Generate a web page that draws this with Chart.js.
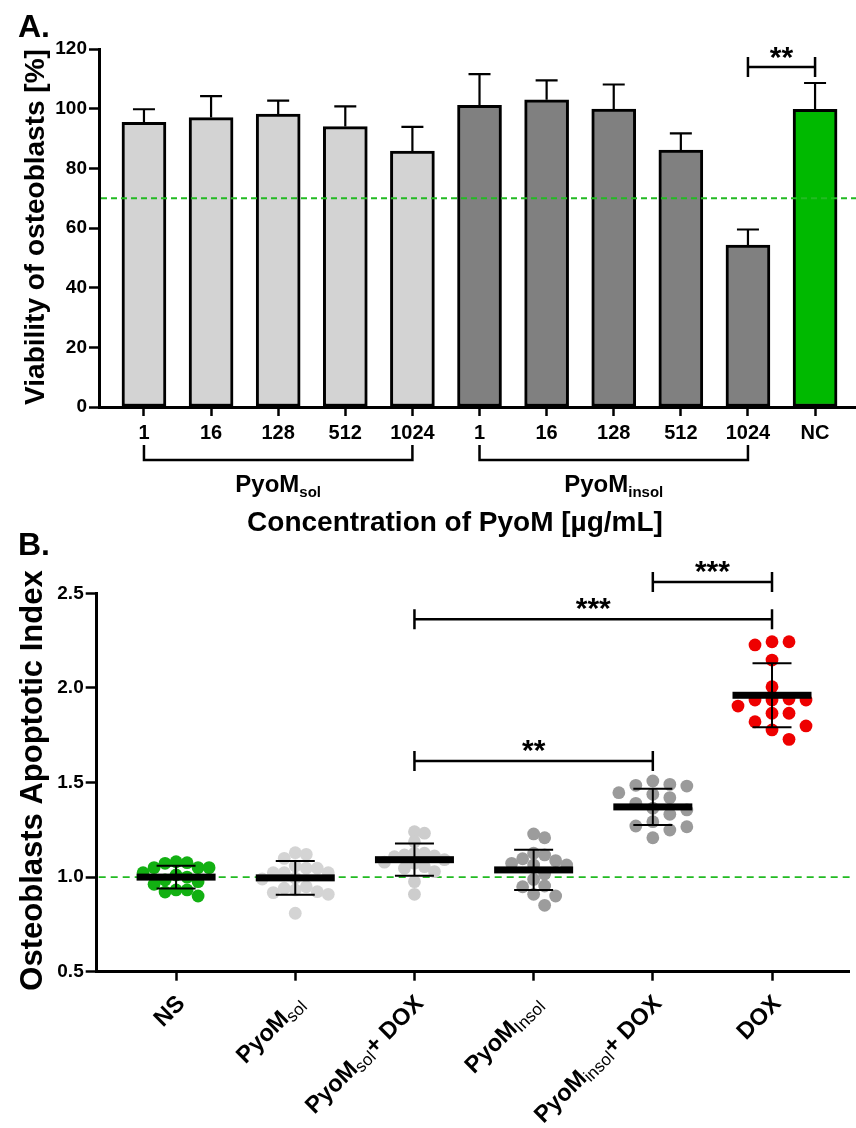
<!DOCTYPE html>
<html><head><meta charset="utf-8">
<script src="https://cdn.jsdelivr.net/npm/chart.js@4.4.1/dist/chart.umd.min.js"></script>
<style>
html,body{margin:0;padding:0;background:#fff;}
#wrap{position:relative;width:856px;height:1128px;overflow:hidden;}
canvas{position:absolute;left:0;}
#ca{top:0;} #cb{top:500px;}
</style></head><body>
<div id="wrap"><canvas id="ca" width="856" height="540"></canvas><canvas id="cb" width="856" height="628"></canvas></div>
<script>
// ---------- Panel A data ----------
const categoriesA = ['1','16','128','512','1024','1','16','128','512','1024','NC'];
const viabilityA = [95.4, 97.0, 98.2, 94.0, 85.8, 101.1, 103.0, 99.9, 86.1, 54.3, 99.8];
const sdA = [4.4, 7.2, 4.5, 6.8, 8.1, 10.5, 6.5, 8.2, 5.6, 5.2, 8.8];
const groupsA = [{label:'PyoM_sol', from:0, to:4}, {label:'PyoM_insol', from:5, to:9}];
const yTicksA = [0, 20, 40, 60, 80, 100, 120];
const thresholdA = 70;
const sigA = [{from:9, to:10, y:114, text:'**'}];
const titleA = 'Viability of osteoblasts [%]';
const xTitleA = 'Concentration of PyoM [µg/mL]';

// ---------- Panel B data ----------
const categoriesB = ['NS', 'PyoM_sol', 'PyoM_sol+ DOX', 'PyoM_Insol', 'PyoM_insol+ DOX', 'DOX'];
const pointsNS = [1.050, 1.050, 1.081, 1.076, 1.073, 1.050, 1.023, 1.011, 0.985, 0.976, 0.962, 0.932, 0.932, 0.921, 0.900, 1.000];
const pointsSol = [1.129, 1.099, 1.120, 1.059, 1.047, 1.047, 1.023, 1.023, 1.023, 0.949, 0.932, 0.918, 0.923, 0.909, 0.941, 0.809, 0.995, 0.990];
const pointsSolDox = [1.232, 1.240, 1.187, 1.108, 1.117, 1.126, 1.126, 1.112, 1.047, 1.055, 1.029, 1.073, 0.976, 0.909, 1.079, 1.092];
const pointsInsol = [1.228, 1.208, 1.117, 1.126, 1.087, 1.073, 1.097, 1.064, 1.064, 1.016, 0.988, 0.953, 0.949, 0.909, 0.900, 0.851];
const pointsInsolDox = [1.490, 1.481, 1.485, 1.508, 1.446, 1.438, 1.420, 1.390, 1.355, 1.364, 1.332, 1.293, 1.270, 1.249, 1.266, 1.208];
const pointsDox = [2.227, 2.244, 2.244, 2.147, 2.006, 1.936, 1.904, 1.936, 1.936, 1.941, 1.866, 1.866, 1.821, 1.799, 1.778, 1.728];
const meansB = [1.000, 0.996, 1.092, 1.038, 1.371, 1.961];
const sdB = [0.060, 0.089, 0.085, 0.106, 0.096, 0.169];
const yTicksB = [0.5, 1.0, 1.5, 2.0, 2.5];
const thresholdB = 1.0;
const sigB = [{from:2, to:4, y:1.614, text:'**'}, {from:2, to:5, y:2.363, text:'***'}, {from:4, to:5, y:2.560, text:'***'}];
const titleB = 'Osteoblasts Apoptotic Index';

// ---------- styles ----------
const FONT = 'Arial, "Liberation Sans", Helvetica, sans-serif';
Chart.defaults.font.family = FONT;
Chart.defaults.color = '#000';
const colorSol = '#d3d3d3', colorInsol = '#808080', colorNC = '#00b900';
const dotColors = ['#12b012', '#d4d4d4', '#cdcdcd', '#9c9c9c', '#9a9a9a', '#ee0000'];
const greenDash = '#22bb22';

function splitRich(label){
  const p = label.split(/_([A-Za-z]+)/);
  return p.map((t,i)=>({t, sub: i%2===1})).filter(o=>o.t.length);
}
function richWidth(ctx, parts, mainF, subF){
  let w=0; parts.forEach(p=>{ctx.font = p.sub?subF:mainF; w+=ctx.measureText(p.t).width;}); return w;
}
function drawRich(ctx, parts, x, baseY, mainF, subF, subDy){
  let cx = x;
  parts.forEach(p=>{ctx.font = p.sub?subF:mainF; ctx.fillText(p.t, cx, baseY + (p.sub?subDy:0)); cx += ctx.measureText(p.t).width;});
}
function textCentered(ctx, text, x, cy, font){
  ctx.font = font; ctx.textAlign='center'; ctx.textBaseline='alphabetic';
  const m = ctx.measureText(text);
  const base = cy + (m.actualBoundingBoxAscent - m.actualBoundingBoxDescent)/2;
  ctx.fillText(text, x, base);
}
function bracket(ctx, x1, x2, y, up, down){
  ctx.beginPath();
  ctx.moveTo(x1, y-up); ctx.lineTo(x1, y+down);
  ctx.moveTo(x1, y); ctx.lineTo(x2, y);
  ctx.moveTo(x2, y-up); ctx.lineTo(x2, y+down);
  ctx.stroke();
}

// ---------- Panel A ----------
const barColorsA = categoriesA.map((c,i)=>{
  if (i>=groupsA[0].from && i<=groupsA[0].to) return colorSol;
  if (i>=groupsA[1].from && i<=groupsA[1].to) return colorInsol;
  return colorNC;
});

const panelAPlugin = {
  id:'panelA',
  afterDatasetsDraw(chart){
    const {ctx, scales:{x, y}, chartArea:ca} = chart;
    ctx.save();
    ctx.strokeStyle='#000'; ctx.lineWidth=2.2; ctx.lineCap='butt';
    viabilityA.forEach((v,i)=>{
      const px = x.getPixelForValue(i), y0 = y.getPixelForValue(v), y1 = y.getPixelForValue(v+sdA[i]);
      ctx.beginPath(); ctx.moveTo(px, y0); ctx.lineTo(px, y1);
      ctx.moveTo(px-11, y1); ctx.lineTo(px+11, y1); ctx.stroke();
    });
    const ty = y.getPixelForValue(thresholdA);
    ctx.strokeStyle = greenDash; ctx.lineWidth = 2; ctx.setLineDash([6,4]);
    ctx.beginPath(); ctx.moveTo(ca.left+2, ty); ctx.lineTo(ca.right, ty); ctx.stroke();
    ctx.setLineDash([]);
    ctx.restore();
  },
  afterDraw(chart){
    const {ctx, scales:{x, y}, chartArea:ca} = chart;
    ctx.save();
    ctx.fillStyle='#000'; ctx.strokeStyle='#000'; ctx.lineWidth=2.5;
    sigA.forEach(s=>{
      const x1=x.getPixelForValue(s.from), x2=x.getPixelForValue(s.to), py=y.getPixelForValue(s.y);
      bracket(ctx, x1, x2, py, 10, 10);
      textCentered(ctx, s.text, (x1+x2)/2, py-14, 'bold 30px '+FONT);
    });
    const b = ca.bottom;
    groupsA.forEach(g=>{
      const x1=x.getPixelForValue(g.from), x2=x.getPixelForValue(g.to);
      ctx.beginPath(); ctx.moveTo(x1, b+38); ctx.lineTo(x1, b+53); ctx.lineTo(x2, b+53); ctx.lineTo(x2, b+38); ctx.stroke();
      const parts = splitRich(g.label);
      const mainF='bold 24px '+FONT, subF='bold 15px '+FONT;
      const w = richWidth(ctx, parts, mainF, subF);
      ctx.textAlign='left'; ctx.textBaseline='alphabetic';
      drawRich(ctx, parts, (x1+x2)/2 - w/2, b+85, mainF, subF, 5);
    });
    ctx.font='bold 28px '+FONT; ctx.textAlign='center'; ctx.textBaseline='alphabetic';
    ctx.fillText(xTitleA, 455, b+124);
    ctx.save(); ctx.translate(44, (ca.top+ca.bottom)/2 - 1); ctx.rotate(-Math.PI/2);
    ctx.font='bold 28px '+FONT; ctx.textAlign='center'; ctx.textBaseline='alphabetic';
    ctx.fillText(titleA, 0, 0); ctx.restore();
    ctx.font='bold 32px '+FONT; ctx.textAlign='left'; ctx.fillText('A.', 18, 37);
    ctx.restore();
  }
};

new Chart(document.getElementById('ca'), {
  type:'bar',
  data:{ datasets:[{
    data: viabilityA.map((v,i)=>({x:i, y:v})),
    backgroundColor: barColorsA, borderColor:'#000', borderWidth:3, borderSkipped:false,
    barThickness:44
  }]},
  options:{
    responsive:false, animation:false, events:[],
    layout:{padding:{top:49, right:0, left:0, bottom:0}},
    plugins:{legend:{display:false}, tooltip:{enabled:false}},
    scales:{
      x:{type:'linear', min:-0.67, max:10.61, offset:false, bounds:'data',
        afterBuildTicks:s=>{ s.ticks = categoriesA.map((c,i)=>({value:i})); },
        afterFit:s=>{ s.height = 133; },
        grid:{display:true, offset:false, drawOnChartArea:false, drawTicks:true, tickLength:9, tickWidth:2.5, tickColor:'#000'},
        border:{display:true, color:'#000', width:3},
        ticks:{autoSkip:false, maxRotation:0, minRotation:0, padding:5, color:'#000', font:{size:20, weight:'bold'},
          callback:(v)=>categoriesA[v]}
      },
      y:{min:0, max:120,
        afterBuildTicks:s=>{ s.ticks = yTicksA.map(v=>({value:v})); },
        afterFit:s=>{ s.width = 99; },
        grid:{drawOnChartArea:false, drawTicks:true, tickLength:10, tickWidth:2.5, tickColor:'#000'},
        border:{display:true, color:'#000', width:3},
        ticks:{padding:2, color:'#000', font:{size:19, weight:'bold'}}
      }
    }
  },
  plugins:[panelAPlugin]
});

// ---------- Panel B ----------
const groupsB = [pointsNS, pointsSol, pointsSolDox, pointsInsol, pointsInsolDox, pointsDox];

const panelBPlugin = {
  id:'panelB',
  beforeDatasetsDraw(chart){
    const {ctx, scales:{y}, chartArea:ca} = chart;
    const ty = y.getPixelForValue(thresholdB);
    ctx.save(); ctx.strokeStyle=greenDash; ctx.lineWidth=1.6; ctx.setLineDash([7,5]);
    ctx.beginPath(); ctx.moveTo(ca.left+2, ty); ctx.lineTo(ca.right, ty); ctx.stroke(); ctx.restore();
  },
  afterDatasetsDraw(chart){
    const {ctx, scales:{x, y}} = chart;
    ctx.save(); ctx.strokeStyle='#000'; ctx.fillStyle='#000';
    meansB.forEach((m,i)=>{
      const px=x.getPixelForValue(i), pm=y.getPixelForValue(m);
      const pt=y.getPixelForValue(m+sdB[i]), pb=y.getPixelForValue(m-sdB[i]);
      ctx.lineWidth=2;
      ctx.beginPath(); ctx.moveTo(px, pt); ctx.lineTo(px, pb);
      ctx.moveTo(px-19.5, pt); ctx.lineTo(px+19.5, pt);
      ctx.moveTo(px-19.5, pb); ctx.lineTo(px+19.5, pb); ctx.stroke();
      ctx.fillRect(px-39.5, pm-3.5, 79, 7);
    });
    ctx.restore();
  },
  afterDraw(chart){
    const {ctx, scales:{x, y}, chartArea:ca} = chart;
    ctx.save(); ctx.fillStyle='#000'; ctx.strokeStyle='#000'; ctx.lineWidth=2.5;
    sigB.forEach(s=>{
      const x1=x.getPixelForValue(s.from), x2=x.getPixelForValue(s.to), py=y.getPixelForValue(s.y);
      bracket(ctx, x1, x2, py, 10, 10);
      textCentered(ctx, s.text, (x1+x2)/2, py-15, 'bold 30px '+FONT);
    });
    const mainF='bold 23.5px '+FONT, subF='17px '+FONT;
    ctx.font = mainF; const capH = ctx.measureText('H').actualBoundingBoxAscent;
    categoriesB.forEach((lab,i)=>{
      const parts = splitRich(lab);
      const w = richWidth(ctx, parts, mainF, subF);
      ctx.save();
      ctx.translate(x.getPixelForValue(i)+4, ca.bottom+27);
      ctx.rotate(-Math.PI/4);
      ctx.textAlign='left'; ctx.textBaseline='alphabetic';
      drawRich(ctx, parts, -w, capH/2, mainF, subF, 4);
      ctx.restore();
    });
    ctx.save(); ctx.translate(42, (ca.top+ca.bottom)/2 - 2); ctx.rotate(-Math.PI/2);
    ctx.font='bold 31px '+FONT; ctx.textAlign='center'; ctx.textBaseline='alphabetic';
    ctx.fillText(titleB, 0, 0); ctx.restore();
    ctx.font='bold 32px '+FONT; ctx.textAlign='left'; ctx.fillText('B.', 18, ca.top-38);
    ctx.restore();
  }
};

const chartB = new Chart(document.getElementById('cb'), {
  type:'scatter',
  data:{ datasets: groupsB.map((vals,gi)=>({
    data: vals.map(v=>({x:gi, y:v})),
    pointRadius:6.4, pointBackgroundColor:dotColors[gi], pointBorderWidth:0, pointBorderColor:dotColors[gi],
    showLine:false
  }))},
  options:{
    responsive:false, animation:false, events:[],
    layout:{padding:{top:93.3, right:0, left:0, bottom:0}},
    plugins:{legend:{display:false}, tooltip:{enabled:false}},
    scales:{
      x:{type:'linear', min:-0.666, max:5.651, bounds:'data',
        afterBuildTicks:s=>{ s.ticks = categoriesB.map((c,i)=>({value:i})); },
        afterFit:s=>{ s.height = 156.3; },
        grid:{drawOnChartArea:false, drawTicks:true, tickLength:9, tickWidth:2.5, tickColor:'#000'},
        border:{display:true, color:'#000', width:3},
        ticks:{display:false}
      },
      y:{min:0.5, max:2.5,
        afterBuildTicks:s=>{ s.ticks = yTicksB.map(v=>({value:v})); },
        afterFit:s=>{ s.width = 96.7; },
        grid:{drawOnChartArea:false, drawTicks:true, tickLength:11, tickWidth:2.5, tickColor:'#000'},
        border:{display:true, color:'#000', width:3},
        ticks:{padding:2, color:'#000', font:{size:19, weight:'bold'}, callback:v=>Number(v).toFixed(1)}
      }
    }
  },
  plugins:[panelBPlugin]
});

// beeswarm layout computed through the chart's own scales
(function(){
  const xs = chartB.scales.x, ys = chartB.scales.y;
  function layout(vals, step, minDist){
    const order = vals.map((v,i)=>i).sort((a,b)=>vals[b]-vals[a]);
    const placed = []; const off = new Array(vals.length).fill(0);
    order.forEach(i=>{
      const py = ys.getPixelForValue(vals[i]);
      for (let k=0;k<40;k++){
        const o = (k===0?0:(k%2?Math.ceil(k/2):-Math.ceil(k/2)))*step;
        if (placed.every(p=>Math.hypot(p[0]-o, p[1]-py) >= minDist)){ placed.push([o,py]); off[i]=o; break; }
      }
    });
    return off;
  }
  groupsB.forEach((vals, gi)=>{
    const cx = xs.getPixelForValue(gi);
    let off;
    for (let step=17; step>=10; step--){
      off = layout(vals, step, Math.min(13, step));
      if (Math.max(...off.map(Math.abs)) <= 35) break;
    }
    chartB.data.datasets[gi].data = vals.map((v,i)=>({x: xs.getValueForPixel(cx+off[i]), y:v}));
  });
  chartB.update('none');
})();
</script>
</body></html>
